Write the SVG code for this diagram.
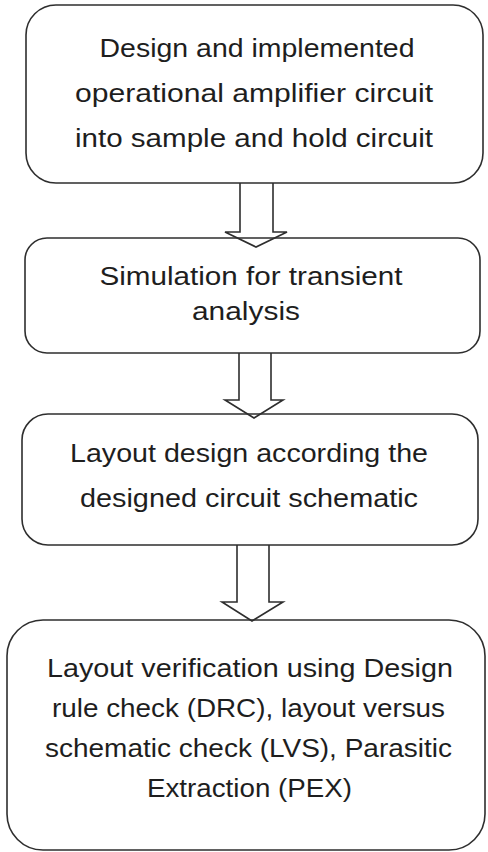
<svg xmlns="http://www.w3.org/2000/svg" width="488" height="852" viewBox="0 0 488 852">
<style>
.box{fill:#fff;stroke:#2e2e2e;stroke-width:1.6}
.arr{fill:none;stroke:#2e2e2e;stroke-width:1.6;stroke-linejoin:miter}
.t{font-family:"Liberation Sans",Arial,sans-serif;font-size:26px;fill:#1e1e1e;text-anchor:middle}
</style>
<rect width="488" height="852" fill="#fff"/>
<g id="n1">
<rect class="box" x="26" y="5" width="457" height="178" rx="30" ry="30"/>
<text class="t" x="257" y="57" textLength="315" lengthAdjust="spacingAndGlyphs">Design and implemented</text>
<text class="t" x="254" y="102" textLength="358" lengthAdjust="spacingAndGlyphs">operational amplifier circuit</text>
<text class="t" x="254" y="147" textLength="358" lengthAdjust="spacingAndGlyphs">into sample and hold circuit</text>
</g>
<g id="n2">
<rect class="box" x="25" y="238" width="455" height="115" rx="22" ry="22"/>
<text class="t" x="251" y="285" textLength="303" lengthAdjust="spacingAndGlyphs">Simulation for transient</text>
<text class="t" x="246" y="320" textLength="108" lengthAdjust="spacingAndGlyphs">analysis</text>
</g>
<g id="n3">
<rect class="box" x="22" y="414" width="456" height="131" rx="26" ry="26"/>
<text class="t" x="249" y="462" textLength="358" lengthAdjust="spacingAndGlyphs">Layout design according the</text>
<text class="t" x="249" y="507" textLength="338" lengthAdjust="spacingAndGlyphs">designed circuit schematic</text>
</g>
<g id="n4">
<rect class="box" x="7" y="620" width="478" height="230" rx="36" ry="36"/>
<text class="t" x="250" y="677" textLength="406" lengthAdjust="spacingAndGlyphs">Layout verification using Design</text>
<text class="t" x="248.5" y="717" textLength="393" lengthAdjust="spacingAndGlyphs">rule check (DRC), layout versus</text>
<text class="t" x="248.5" y="757" textLength="407" lengthAdjust="spacingAndGlyphs">schematic check (LVS), Parasitic</text>
<text class="t" x="249.5" y="797" textLength="205" lengthAdjust="spacingAndGlyphs">Extraction (PEX)</text>
</g>
<g id="connectors">
<path class="arr" d="M240,183 V232 H225 L256,247 L287,232 H273 V183"/>
<path class="arr" d="M239,353 V400 H225 L254,418 L283,400 H271 V353"/>
<path class="arr" d="M237,545 V602 H222 L252,621 L283,602 H269 V545"/>
</g>
</svg>
